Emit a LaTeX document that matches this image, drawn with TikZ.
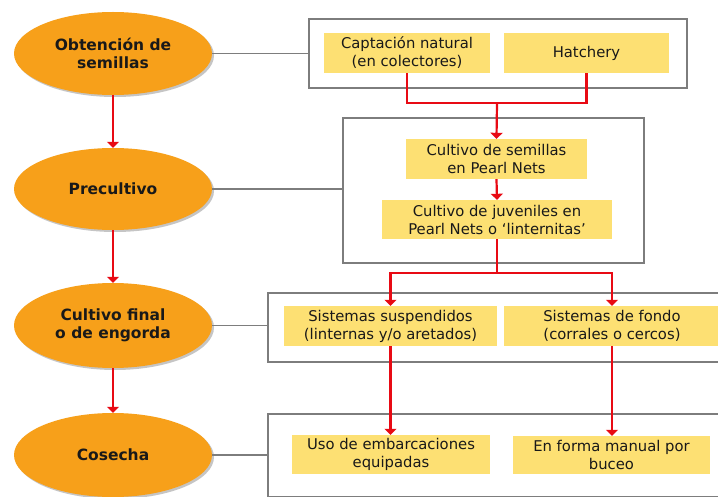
\documentclass[tikz,border=0pt]{standalone}
\usepackage{fontspec}
\setmainfont{DejaVu Sans}
\usetikzlibrary{shapes.geometric,arrows.meta,shadows}
\definecolor{orng}{RGB}{247,160,26}
\definecolor{ylw}{RGB}{253,224,115}
\definecolor{redl}{RGB}{232,10,20}
\definecolor{grayl}{RGB}{125,125,125}
\definecolor{txt}{RGB}{25,25,25}
\tikzset{
 stage/.style={ellipse, fill=orng, minimum width=198pt, minimum height=83pt, inner sep=0pt, align=center,
   font=\fontsize{15.5}{18}\selectfont\bfseries, text=txt,
   drop shadow={fill=black!50, opacity=0.45, shadow xshift=2pt, shadow yshift=-2pt}},
 frame/.style={draw=grayl, line width=2pt, inner sep=0pt},
 item/.style={fill=ylw, inner sep=0pt, align=center, font=\fontsize{14.8}{18}\selectfont, text=txt},
 link/.style={draw=grayl, line width=1.6pt},
 flow/.style={draw=redl, line width=2.2pt},
 flowarr/.style={flow, -{Triangle[width=12pt,length=6pt]}},
}
\begin{document}
\begin{tikzpicture}[x=1pt,y=-1pt]
\clip (0,0) rectangle (718,497);
\fill[white] (0,0) rectangle (718,497);

% stages
\node[stage] (e1) at (113,53.5) {Obtención de\\semillas};
\node[stage, minimum height=82pt] (e2) at (113,189) {Precultivo};
\node[stage, minimum height=85pt] (e3) at (113,325.5) {Cultivo final\\o de engorda};
\node[stage, minimum height=84pt] (e4) at (113,455) {Cosecha};

% frames
\node[frame, anchor=north west, minimum width=378pt, minimum height=69pt] (b1) at (308,18) {};
\node[frame, anchor=north west, minimum width=301pt, minimum height=145pt] (b2) at (342,117) {};
\node[frame, anchor=north west, minimum width=470pt, minimum height=69pt] (b3) at (267,292) {};
\node[frame, anchor=north west, minimum width=470pt, minimum height=83pt] (b4) at (267,413) {};

% items
\node[item, minimum width=166pt, minimum height=40pt] (cap) at (407,53) {Captación natural\\(en colectores)};
\node[item, minimum width=165pt, minimum height=40pt] (hat) at (586.5,53) {Hatchery};
\node[item, minimum width=181pt, minimum height=40pt] (cs) at (496.5,159) {Cultivo de semillas\\en Pearl Nets};
\node[item, minimum width=230pt, minimum height=39pt] (cj) at (497,219.5) {Cultivo de juveniles en\\Pearl Nets o `linternitas'};
\node[item, minimum width=213pt, minimum height=40pt] (ss) at (390.5,326) {Sistemas suspendidos\\(linternas y/o aretados)};
\node[item, minimum width=216pt, minimum height=40pt] (sf) at (612,326) {Sistemas de fondo\\(corrales o cercos)};
\node[item, minimum width=198pt, minimum height=39pt] (uso) at (391,454.5) {Uso de embarcaciones\\equipadas};
\node[item, minimum width=197pt, minimum height=38pt] (ef) at (611.5,455) {En forma manual por\\buceo};

% gray links
\draw[link] (e1.east) -- (e1.east -| b1.west);
\draw[link] (e2.east) -- (e2.east -| b2.west);
\draw[link] (e3.east) -- (e3.east -| b3.west);
\draw[link] (e4.east) -- (e4.east -| b4.west);

% red flow between stages
\draw[flowarr] (e1.south) -- (e2.north);
\draw[flowarr] (e2.south) -- (e3.north);
\draw[flowarr] (e3.south) -- (e4.north);

% red flow in boxes
\coordinate (j1) at (497,103);
\draw[flow] (cap.south) |- (j1) -| (hat.south);
\draw[flowarr] (j1) -- (cs.north);
\draw[flowarr] (cs.south) -- (cj.north);
\coordinate (j2) at (497,273);
\draw[flow] (cj.south) -- (j2);
\draw[flowarr] (j2) -| (ss.north);
\draw[flowarr] (j2) -| (sf.north);
\draw[flowarr] (ss.south) -- (ss.south |- uso.north);
\draw[flowarr] (sf.south) -- (sf.south |- ef.north);
\end{tikzpicture}
\end{document}
